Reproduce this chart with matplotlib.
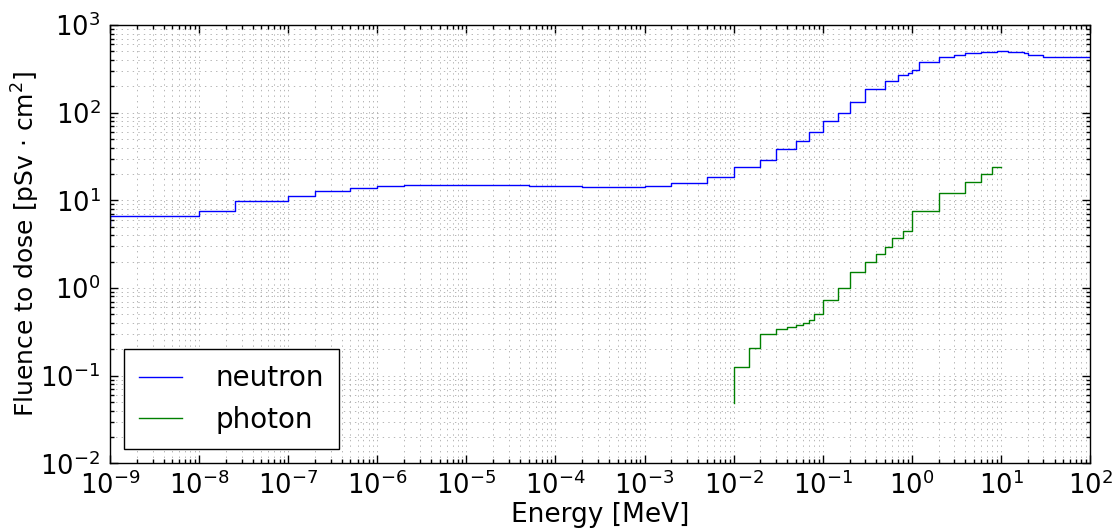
import numpy as np
import matplotlib
matplotlib.use("Agg")
import matplotlib.pyplot as plt
from matplotlib.ticker import LogLocator, NullFormatter

plt.rcParams['font.family'] = ['DejaVu Sans']
plt.rcParams['axes.unicode_minus'] = False
plt.rcParams['mathtext.default'] = 'regular'

# Neutron fluence-to-dose conversion coefficients
neutron_energy = [1e-9, 1e-8, 2.5e-8, 1e-7, 2e-7, 5e-7, 1e-6, 2e-6, 5e-6, 1e-5, 2e-5,
                  5e-5, 1e-4, 2e-4, 5e-4, 1e-3, 2e-3, 5e-3, 1e-2, 2e-2, 3e-2, 5e-2,
                  7e-2, 0.1, 0.15, 0.2, 0.3, 0.5, 0.7, 0.9, 1.0, 1.2, 2.0, 3.0, 4.0,
                  5.0, 6.0, 7.0, 8.0, 9.0, 10.0, 12.0, 14.0, 15.0, 16.0, 18.0, 20.0,
                  30.0, 50.0, 75.0, 100.0]
neutron_dose = [5.24, 6.55, 7.60, 9.95, 11.2, 12.8, 13.8, 14.5, 15.0, 15.1, 15.1,
                14.8, 14.6, 14.4, 14.2, 14.2, 14.4, 15.7, 18.3, 23.8, 29.0, 38.5,
                47.2, 59.8, 80.2, 99.0, 133, 188, 231, 267, 282, 310, 383, 432, 458,
                474, 483, 490, 494, 497, 499, 499, 496, 494, 491, 486, 480,
                458, 437, 429, 429]

# Photon fluence-to-dose conversion coefficients
photon_energy = [0.01, 0.015, 0.02, 0.03, 0.04, 0.05, 0.06, 0.07, 0.08, 0.1, 0.15,
                 0.2, 0.3, 0.4, 0.5, 0.6, 0.8, 1.0, 2.0, 4.0, 6.0, 8.0, 10.0]
photon_dose = [0.0485, 0.125, 0.205, 0.300, 0.338, 0.357, 0.378, 0.401, 0.432, 0.502,
               0.729, 0.997, 1.51, 2.00, 2.47, 2.91, 3.73, 4.49, 7.48, 12.0, 16.0,
               19.9, 23.8]

fig = plt.figure(figsize=(11.16, 5.30), dpi=100)
ax = fig.add_axes([0.0986, 0.1258, 0.8781, 0.8270])

ax.step(neutron_energy, neutron_dose, where='pre', color='b', lw=1.0, label='neutron')
ax.step(photon_energy, photon_dose, where='pre', color='g', lw=1.0, label='photon')

ax.set_xscale('log')
ax.set_yscale('log')
ax.set_xlim(1e-9, 1e2)
ax.set_ylim(1e-2, 1e3)

ax.xaxis.set_major_locator(LogLocator(base=10, numticks=20))
ax.xaxis.set_minor_locator(LogLocator(base=10, subs=np.arange(2, 10), numticks=200))
ax.xaxis.set_minor_formatter(NullFormatter())
ax.yaxis.set_major_locator(LogLocator(base=10, numticks=20))
ax.yaxis.set_minor_locator(LogLocator(base=10, subs=np.arange(2, 10), numticks=200))
ax.yaxis.set_minor_formatter(NullFormatter())

ax.grid(True, which='both', color='0.6', linestyle=(0, (2, 6)), linewidth=0.5)
ax.tick_params(which='both', direction='in', top=True, right=True, width=1.0)
ax.tick_params(which='major', length=5.5, labelsize=18.5)
ax.tick_params(which='minor', length=3)
ax.tick_params(axis='x', which='major', pad=6)
ax.tick_params(axis='y', which='major', pad=7)
for s in ax.spines.values():
    s.set_linewidth(1.0)
    s.set_color('black')

ax.set_xlabel('Energy [MeV]', fontsize=19, labelpad=1)
ax.set_ylabel(r'Fluence to dose [pSv $\cdot$ cm$^2$]', fontsize=18, labelpad=-1)

leg = ax.legend(loc='lower left', fontsize=20, handlelength=1.55, handletextpad=1.2,
                labelspacing=0.5, borderpad=0.55, borderaxespad=0.5, fancybox=False,
                framealpha=1, edgecolor='black')
leg.get_frame().set_linewidth(1.0)

fig.savefig('out.png', dpi=100, facecolor='white')
